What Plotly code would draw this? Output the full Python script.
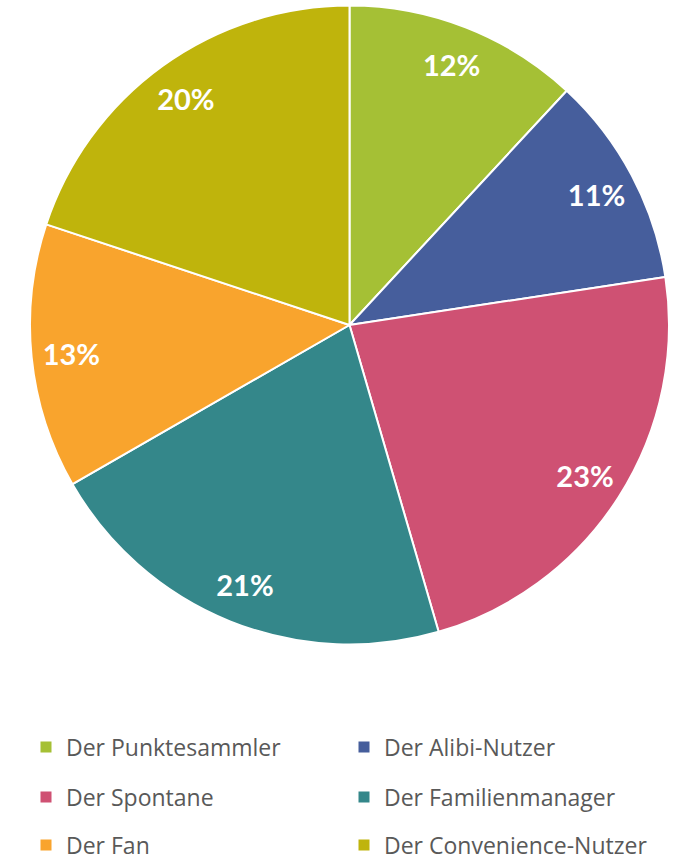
import plotly.graph_objects as go

labels = ["Der Punktesammler", "Der Alibi-Nutzer", "Der Spontane",
          "Der Familienmanager", "Der Fan", "Der Convenience-Nutzer"]
# shares (labels show them rounded)
values = [11.9, 10.7, 22.9, 21.2, 13.4, 19.9]
colors = ["#A5C035", "#465E9C", "#CF5173", "#34878A", "#F9A42D", "#BFB40C"]
legend_names = ["legend", "legend", "legend2", "legend2", "legend3", "legend3"]

pie_domain = dict(x=[30/680, 669/680], y=[1-645/860, 1-5/860])

fig = go.Figure()
# main pie (slices)
fig.add_trace(go.Pie(
    labels=labels, values=values, sort=False, direction="clockwise", rotation=0,
    marker=dict(colors=colors, line=dict(color="white", width=2)),
    textinfo="none", showlegend=False, hoverinfo="label+percent",
    domain=pie_domain,
))
# transparent ring carrying the percentage labels near the outer edge
fig.add_trace(go.Pie(
    labels=labels, values=values, sort=False, direction="clockwise", rotation=0,
    hole=0.75,
    marker=dict(colors=["rgba(0,0,0,0)"] * len(values), line=dict(width=0)),
    texttemplate="%{value:.0f}%", textposition="inside", insidetextorientation="horizontal",
    textfont=dict(family="Lato", size=29, color="white", weight="bold"),
    showlegend=False, hoverinfo="skip",
    domain=pie_domain,
))

for lab, col, lg in zip(labels, colors, legend_names):
    fig.add_trace(go.Scatter(x=[None], y=[None], mode="markers", name=lab,
                             marker=dict(symbol="square", size=11, color=col),
                             legend=lg, showlegend=True))

leg_common = dict(orientation="h", xanchor="left", yanchor="middle", x=26/680,
                  entrywidth=273, entrywidthmode="pixels",
                  font=dict(family="Open Sans", size=23, color="#595959"),
                  bgcolor="rgba(0,0,0,0)", itemclick=False, itemdoubleclick=False)
fig.update_layout(
    width=680, height=860, margin=dict(l=0, r=0, t=0, b=0, autoexpand=False),
    paper_bgcolor="white", plot_bgcolor="white",
    xaxis=dict(visible=False), yaxis=dict(visible=False),
    legend=dict(leg_common, y=1-747/860),
    legend2=dict(leg_common, y=1-797/860),
    legend3=dict(leg_common, y=1-845/860),
)
fig.write_html("out.html", config={"displayModeBar": False},
               post_script="document.body.style.margin='0px';document.body.style.overflow='hidden';")
